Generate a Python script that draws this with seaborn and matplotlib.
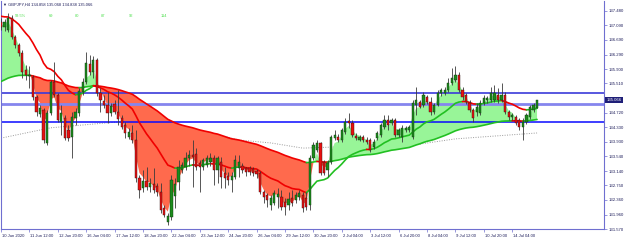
import numpy as np
import pandas as pd
import matplotlib
matplotlib.use("Agg")
import matplotlib.pyplot as plt
import matplotlib.transforms as mtransforms
import seaborn as sns

# ---------------- data (GBPJPY H4) ----------------
opens = [
137.17, 137.04, 136.96, 137.28, 136.77, 136.55, 136.33, 135.88, 135.71, 135.69,
135.14, 134.68, 134.79, 133.90, 134.71, 135.55, 135.20, 134.47, 134.58, 134.25,
134.06, 134.58, 134.71, 135.28, 135.55, 136.04, 135.82, 136.15, 135.25, 135.04,
134.93, 134.71, 134.95, 134.74, 134.58, 134.39, 134.06, 134.17, 133.98, 132.95,
132.68, 132.87, 132.71, 132.79, 132.74, 132.57, 132.14, 131.76, 131.90, 132.47,
132.84, 133.17, 133.25, 133.49, 133.57, 133.60, 133.36, 133.25, 133.30, 133.38,
133.49, 133.17, 133.38, 133.09, 133.01, 132.90, 132.98, 133.22, 133.28, 133.22,
133.22, 133.20, 133.14, 133.09, 132.57, 132.49, 132.22, 132.27, 132.44, 132.44,
132.30, 132.22, 132.41, 132.36, 132.44, 132.49, 132.41, 132.22, 133.49, 133.71,
133.90, 133.38, 133.17, 133.38, 134.03, 134.06, 133.98, 134.20, 134.49, 134.44,
134.09, 133.98, 134.06, 133.98, 133.98, 133.79, 134.03, 134.12, 134.33, 134.52,
134.44, 134.52, 134.12, 134.06, 134.25, 134.25, 134.06, 134.93, 135.01, 134.93,
135.14, 135.01, 134.74, 134.93, 135.25, 135.25, 135.33, 135.52, 135.60, 135.74,
135.33, 135.20, 134.98, 134.79, 134.74, 134.71, 134.98, 135.06, 135.06, 135.06,
135.20, 135.06, 135.20, 134.74, 134.60, 134.60, 134.52, 134.33, 134.47, 134.60,
134.79, 134.858]

closes = [
137.04, 137.17, 137.28, 136.77, 136.55, 136.33, 135.82, 135.74, 135.74, 135.14,
134.74, 134.85, 133.98, 134.71, 135.55, 135.20, 134.52, 134.71, 134.03, 134.03,
134.60, 134.74, 135.31, 135.55, 136.06, 135.82, 136.15, 135.25, 135.06, 134.93,
134.71, 134.90, 134.74, 134.55, 134.33, 134.17, 134.20, 133.98, 132.95, 132.63,
132.87, 132.71, 132.82, 132.63, 132.57, 132.09, 131.95, 131.92, 132.90, 132.79,
133.25, 133.30, 133.49, 133.57, 133.52, 133.25, 133.25, 133.44, 133.49, 133.49,
133.17, 133.49, 132.98, 132.95, 132.90, 133.01, 133.44, 133.38, 133.17, 133.11,
133.11, 133.09, 133.06, 132.57, 132.44, 132.36, 132.41, 132.55, 132.52, 132.17,
132.17, 132.38, 132.27, 132.49, 132.55, 132.14, 132.17, 133.49, 133.85, 133.90,
133.09, 133.09, 133.36, 134.06, 134.12, 133.98, 134.25, 134.47, 134.44, 134.12,
134.03, 134.06, 133.98, 133.93, 133.71, 133.93, 134.17, 134.39, 134.52, 134.39,
134.52, 134.12, 134.25, 134.31, 134.31, 134.33, 134.98, 135.06, 134.87, 135.20,
135.01, 134.74, 134.93, 135.25, 135.33, 135.33, 135.52, 135.66, 135.74, 135.33,
135.14, 135.01, 134.79, 134.58, 134.87, 134.98, 135.12, 135.12, 135.25, 135.25,
135.06, 135.20, 134.74, 134.60, 134.66, 134.44, 134.33, 134.47, 134.66, 134.87,
134.93, 135.066]

highs = [
137.28, 137.26, 137.42, 137.36, 136.82, 136.61, 136.42, 136.01, 135.98, 135.74,
135.20, 134.93, 134.85, 134.79, 135.60, 136.09, 135.25, 134.93, 134.66, 134.39,
134.74, 134.85, 135.39, 135.66, 136.36, 136.28, 136.25, 136.20, 135.39, 135.20,
135.28, 134.98, 135.06, 135.33, 134.66, 134.47, 134.31, 134.39, 134.25, 133.03,
133.17, 133.25, 132.95, 133.22, 132.82, 132.82, 132.22, 132.00, 133.03, 132.95,
133.44, 133.38, 133.66, 133.71, 133.98, 133.76, 133.44, 133.49, 133.57, 133.63,
133.57, 133.55, 133.52, 133.25, 133.11, 133.11, 133.57, 133.57, 133.36, 133.25,
133.28, 133.25, 133.20, 133.14, 132.63, 132.55, 132.49, 132.63, 132.68, 132.63,
132.41, 132.57, 132.63, 132.57, 132.63, 132.57, 132.57, 133.57, 133.93, 133.98,
133.93, 133.44, 133.44, 134.12, 134.25, 134.14, 134.31, 134.58, 134.71, 134.52,
134.17, 134.12, 134.12, 134.06, 134.03, 134.01, 134.22, 134.44, 134.66, 134.66,
134.58, 134.58, 134.31, 134.39, 134.36, 134.39, 135.06, 135.42, 135.06, 135.28,
135.20, 135.14, 134.98, 135.33, 135.39, 135.42, 135.66, 135.93, 135.98, 135.82,
135.42, 135.25, 135.06, 134.85, 134.98, 135.06, 135.20, 135.17, 135.42, 135.47,
135.39, 135.52, 135.28, 134.79, 134.71, 134.66, 134.58, 134.58, 134.71, 134.93,
134.98, 135.068]

lows = [
136.96, 136.93, 136.90, 136.71, 136.47, 136.25, 135.66, 135.60, 135.39, 135.06,
134.63, 134.60, 133.90, 133.85, 134.66, 135.14, 134.47, 134.12, 133.98, 133.95,
133.49, 134.39, 134.63, 135.20, 135.50, 135.74, 135.66, 135.17, 134.74, 134.85,
134.44, 134.63, 134.68, 134.39, 134.28, 134.03, 134.01, 133.90, 132.84, 132.41,
132.57, 132.63, 132.57, 132.55, 132.47, 132.00, 131.90, 131.68, 131.81, 132.14,
132.63, 133.09, 133.17, 133.28, 132.71, 133.17, 132.57, 133.17, 133.25, 133.28,
132.76, 132.82, 132.68, 132.68, 132.76, 132.57, 132.92, 132.98, 133.09, 133.01,
133.03, 133.01, 132.95, 132.52, 132.27, 132.17, 132.09, 132.22, 132.14, 132.09,
131.95, 132.09, 132.19, 132.27, 132.36, 132.03, 132.09, 132.09, 133.44, 133.66,
133.03, 133.03, 132.98, 133.33, 133.98, 133.93, 133.93, 134.14, 134.31, 134.06,
133.98, 133.95, 133.93, 133.87, 133.66, 133.74, 133.98, 134.06, 134.28, 134.25,
134.39, 134.06, 134.06, 133.93, 134.20, 134.20, 134.01, 134.66, 134.85, 134.87,
134.95, 134.66, 134.68, 134.90, 135.17, 135.20, 135.28, 135.47, 135.55, 135.28,
135.06, 134.95, 134.74, 134.47, 134.63, 134.66, 134.93, 134.98, 135.01, 135.01,
134.98, 135.01, 134.68, 134.52, 134.52, 134.39, 134.25, 133.98, 134.41, 134.55,
134.74, 134.838]

fast_span, mid_span, slow_span = 3, 20, 70
fast_seed, mid_seed, slow_seed = 137.10, 137.36, 135.52

# long dotted MA (read at a few bars)
long_ma_bars = [0, 14, 33, 39, 53, 67, 76, 85, 94, 118, 128, 151]
long_ma_vals = [134.03, 134.31, 134.47, 134.49, 134.31, 133.98, 133.90, 133.76,
                133.79, 133.87, 134.01, 134.17]

# horizontal levels
level_vals = [135.244, 134.963, 134.467]
level_cols = ["#3b3bd9", "#8585ee", "#0a0aff"]
level_lws = [1.2, 2.0, 1.1]

price_ticks = [137.480, 137.090, 136.690, 136.290, 135.900, 135.510, 134.720,
               134.330, 133.930, 133.540, 133.140, 132.750, 132.360, 131.960, 131.570]
price_labels = ["137.480", "137.090", "136.690", "136.290", "135.900", "135.510",
                "134.720", "134.330", "133.930", "133.540", "133.140", "132.750",
                "132.360", "131.960", "131.570"]
date_ticks = list(range(0, 152, 8))
date_labels = ["10 Jun 2020", "11 Jun 12:00", "12 Jun 20:00", "16 Jun 04:00",
               "17 Jun 12:00", "18 Jun 20:00", "22 Jun 04:00", "23 Jun 12:00",
               "24 Jun 20:00", "26 Jun 04:00", "29 Jun 12:00", "30 Jun 20:00",
               "2 Jul 04:00", "3 Jul 12:00", "6 Jul 20:00", "8 Jul 04:00",
               "9 Jul 12:00", "10 Jul 20:00", "14 Jul 04:00"]
last_price = 135.066
title_text = "\u25bc GBPJPY,H4 134.858 135.068 134.838 135.066"
fib_texts = ["59.5%", "69", "80", "87", "92", "114"]
fib_x_px = [15, 49, 75, 101, 129, 161]

# ---------------- helpers ----------------
def ema(vals, span, seed):
    a = 2.0 / (span + 1)
    out, prev = [], seed
    for v in vals:
        prev = prev + a * (v - prev)
        out.append(prev)
    return np.array(out)

df = pd.DataFrame({"bar": np.arange(len(closes)), "open": opens, "high": highs,
                   "low": lows, "close": closes})
x = df["bar"].to_numpy(dtype=float)
fast = ema(closes, fast_span, fast_seed)
mid = ema(closes, mid_span, mid_seed)
slow = ema(closes, slow_span, slow_seed)

sns.set_theme(style="white")
plt.rcParams["font.family"] = ["Liberation Sans", "DejaVu Sans"]

W, H = 625, 240
fig = plt.figure(figsize=(W / 100, H / 100), dpi=100)
fig.patch.set_facecolor("white")
ax = fig.add_axes([0.5 / W, 11 / H, 603.5 / W, 228 / H])
ax.set_facecolor("white")

# long MA (behind everything)
sns.lineplot(x=long_ma_bars, y=long_ma_vals, ax=ax, color="#9a9a9a", lw=0.7,
             linestyle=(0, (1, 1.5)), zorder=0.5)

# cloud between fast and slow
up = fast >= slow
ax.fill_between(x, fast, slow, where=up, interpolate=True, color="#98f598",
                lw=0, zorder=1)
ax.fill_between(x, fast, slow, where=~up, interpolate=True, color="#ff6a4d",
                lw=0, zorder=1)

# horizontal levels
for v, c, lw in zip(level_vals, level_cols, level_lws):
    ax.axhline(v, color=c, lw=lw, zorder=2)

def colored_line(xv, yv, lw):
    d = np.diff(yv)
    start = 0
    n = len(d)
    for i in range(1, n + 1):
        if i == n or (d[i] >= 0) != (d[start] >= 0):
            col = "#22c022" if d[start] >= 0 else "#f00000"
            ax.plot(xv[start:i + 1], yv[start:i + 1], color=col, lw=lw,
                    solid_capstyle="round", zorder=3)
            start = i

colored_line(x, slow, 1.2)
colored_line(x, mid, 1.2)

# candles
o = df["open"].to_numpy(); c = df["close"].to_numpy()
ax.vlines(x, df["low"], df["high"], color="#3a3a3a", lw=0.6, zorder=4)
bull = c >= o
body_b = np.minimum(o, c)
body_h = np.maximum(np.abs(c - o), 0.012)
ax.bar(x[bull], body_h[bull], bottom=body_b[bull], width=0.62, color="#1c8c1c",
       edgecolor="#103010", linewidth=0.3, zorder=5)
ax.bar(x[~bull], body_h[~bull], bottom=body_b[~bull], width=0.62, color="#e81010",
       edgecolor="#301010", linewidth=0.3, zorder=5)

# axes ranges
ax.set_xlim((0.5 - 1) / 3.55, (604 - 1) / 3.55)
ax.set_ylim(131.571, 137.743)

ax.spines["top"].set_visible(False)
for s in ["left", "right", "bottom"]:
    ax.spines[s].set_color("#6f6fd0")
    ax.spines[s].set_linewidth(0.8)

ax.yaxis.tick_right()
ax.set_yticks(price_ticks)
ax.set_yticklabels(price_labels)
ax.set_xticks(date_ticks)
ax.set_xticklabels(date_labels, ha="left")
ax.tick_params(axis="y", which="both", right=True, left=False, length=2, width=0.5,
               pad=1, labelsize=3.1, colors="#6f6fd0", labelcolor="#1c1c5a")
ax.tick_params(axis="x", which="both", bottom=True, length=2, width=0.5, pad=1.5,
               labelsize=3.0, colors="#6f6fd0", labelcolor="#1c1c5a")
offset = mtransforms.ScaledTranslation(1 / 100, 0, fig.dpi_scale_trans)
for lab in ax.get_xticklabels():
    lab.set_transform(lab.get_transform() + offset)
ax.set_xlabel("")
ax.set_ylabel("")
ax.grid(False)

# current price tag
trans = mtransforms.blended_transform_factory(ax.transAxes, ax.transData)
ax.text(1.0 + 2.5 / 603.5, last_price, f"{last_price:.3f}", transform=trans,
        ha="left", va="center", fontsize=3.1, color="white", zorder=10,
        bbox=dict(boxstyle="square,pad=0.3", fc="#1f1f78", ec="none"),
        clip_on=False)

# header texts
fig.text(3 / W, 1 - 4.7 / H, title_text, fontsize=2.9, color="#1c1c5a",
         ha="left", va="center")
for t, px in zip(fib_texts, fib_x_px):
    fig.text(px / W, 1 - 16 / H, t, fontsize=2.9, color="#52e052",
             ha="left", va="center")

fig.savefig("out.png", dpi=100, facecolor="white")
